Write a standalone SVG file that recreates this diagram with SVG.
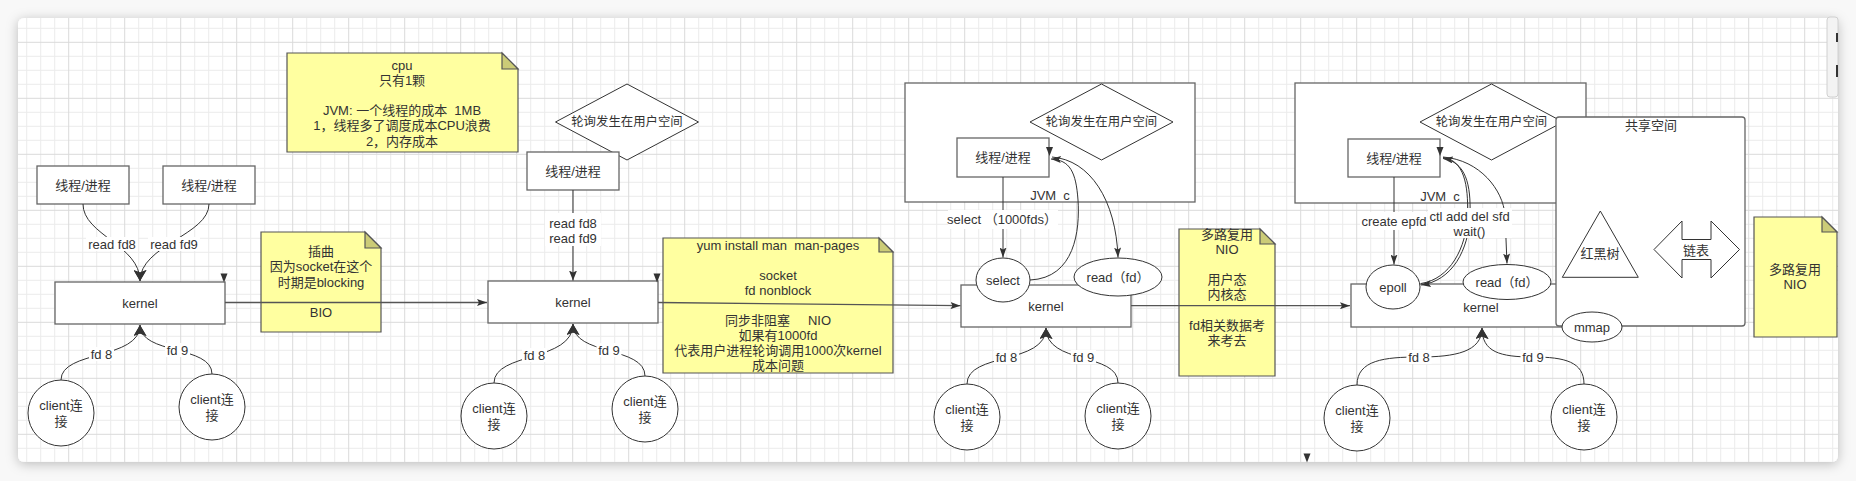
<svg xmlns="http://www.w3.org/2000/svg" width="1856" height="481" viewBox="0 0 1856 481">
<defs>
<style>
.t{font-family:"Liberation Sans","Noto Sans CJK SC",sans-serif;font-size:13px;fill:#333;text-anchor:middle;dominant-baseline:central}
.dt{font-size:12.4px}
.box{fill:#fff;stroke:#666;stroke-width:1.3}
.sh{fill:#fff;stroke:#333;stroke-width:1}
.note{fill:#ffffa0;stroke:#555;stroke-width:1.2}
.fold{fill:#cccc77;stroke:#555;stroke-width:1.2}
.c{fill:none;stroke:#333;stroke-width:1}
.h{fill:none;stroke:#555;stroke-width:1.3}
.lb{fill:#fff}
.ah{fill:#333}
</style>
<pattern id="g" width="56" height="56" patternUnits="userSpaceOnUse" x="12.2" y="41.8">
<path d="M14.5 0V56M28.5 0V56M42.5 0V56M0 14.5H56M0 28.5H56M0 42.5H56" stroke="#ebebeb" stroke-width="1" fill="none"/>
<path d="M0.5 0V56M0 0.5H56" stroke="#dadada" stroke-width="1" fill="none"/>
</pattern>
<filter id="s" x="-5%" y="-10%" width="110%" height="120%"><feDropShadow dx="0" dy="2" stdDeviation="6" flood-color="#000" flood-opacity="0.25"/></filter>
<marker id="ab" viewBox="0 0 11 13" markerWidth="11" markerHeight="13" refX="11" refY="6.5" orient="auto" markerUnits="userSpaceOnUse"><path d="M0,0 L11,6.5 L0,13 L2.5,6.5 Z" class="ah"/></marker>
<marker id="am" viewBox="0 0 10 8" markerWidth="10" markerHeight="8" refX="10" refY="4" orient="auto" markerUnits="userSpaceOnUse"><path d="M0,0 L10,4 L0,8 L2,4 Z" class="ah"/></marker>
<marker id="as" viewBox="0 0 10 7" markerWidth="10" markerHeight="7" refX="10" refY="3.5" orient="auto-start-reverse" markerUnits="userSpaceOnUse"><path d="M0,0 L10,3.5 L0,7 L2,3.5 Z" class="ah"/></marker>
</defs>
<rect width="1856" height="481" fill="#f8f8f8"/>
<g id="panel">
<rect x="18" y="18" width="1820" height="444" rx="6" fill="#fff" filter="url(#s)"/>
<rect x="18" y="18" width="1820" height="444" rx="6" fill="url(#g)"/>
<rect x="1827" y="17" width="11" height="80" rx="3" fill="#f3f3f3" stroke="#d0d0d0"/>
<rect x="1836" y="33" width="2" height="9" fill="#333"/>
<rect x="1836" y="65" width="2" height="12" fill="#333"/>
</g>

<!-- Section 1 BIO -->
<g id="thread1a"><rect class="box" x="37" y="166" width="92" height="38"/><text class="t" x="83" y="185">线程/进程</text></g>
<g id="thread1b"><rect class="box" x="163" y="166" width="92" height="38"/><text class="t" x="209" y="185">线程/进程</text></g>
<g id="kernel1"><rect class="box" x="55" y="282" width="170" height="42"/><text class="t" x="140" y="303">kernel</text></g>
<g id="client1a"><circle class="sh" cx="61" cy="413" r="33"/><text class="t" x="61" y="405.5">client连</text><text class="t" x="61" y="421">接</text></g>
<g id="client1b"><circle class="sh" cx="212" cy="407" r="33"/><text class="t" x="212" y="399.5">client连</text><text class="t" x="212" y="415">接</text></g>
<g id="note-cpu"><path class="note" d="M287,53 H502 L518,69 V152 H287 Z"/><path class="fold" d="M502,53 V69 H518 Z"/>
<text class="t" x="402" y="65">cpu</text><text class="t" x="402" y="80.5">只有1颗</text><text class="t" x="402" y="110" xml:space="preserve">JVM: 一个线程的成本  1MB</text><text class="t" x="402" y="125.5">1，线程多了调度成本CPU浪费</text><text class="t" x="402" y="141">2，内存成本</text></g>
<g id="note-bio"><path class="note" d="M261,232 H365 L381,248 V332 H261 Z"/><path class="fold" d="M365,232 V248 H381 Z"/>
<text class="t" x="321" y="251">插曲</text><text class="t" x="321" y="266.5">因为socket在这个</text><text class="t" x="321" y="282">时期是blocking</text><text class="t" x="321" y="312">BIO</text></g>

<!-- Section 2 NIO -->
<g id="diamond2"><polygon class="sh" points="555.5,122 627,84 698.5,122 627,160"/><text class="t dt" x="627" y="122">轮询发生在用户空间</text></g>
<g id="thread2"><rect class="box" x="527" y="152" width="92" height="38"/><text class="t" x="573" y="171">线程/进程</text></g>
<g id="kernel2"><rect class="box" x="488" y="281" width="170" height="42"/><text class="t" x="573" y="302">kernel</text></g>
<g id="client2a"><circle class="sh" cx="494" cy="416" r="33"/><text class="t" x="494" y="408.5">client连</text><text class="t" x="494" y="424">接</text></g>
<g id="client2b"><circle class="sh" cx="645" cy="409" r="33"/><text class="t" x="645" y="401.5">client连</text><text class="t" x="645" y="417">接</text></g>
<g id="note-nio"><path class="note" d="M663,238 H879 L893,252 V373 H663 Z"/><path class="fold" d="M879,238 V252 H893 Z"/>
<text class="t" x="778" y="245.5" xml:space="preserve">yum install man  man-pages</text><text class="t" x="778" y="275.5">socket</text><text class="t" x="778" y="290.5">fd nonblock</text><text class="t" x="778" y="320.5" xml:space="preserve">同步非阻塞     NIO</text><text class="t" x="778" y="335.5">如果有1000fd</text><text class="t" x="778" y="350.5">代表用户进程轮询调用1000次kernel</text><text class="t" x="778" y="365.5">成本问题</text></g>

<!-- Section 3 select -->
<g id="jvm3"><rect class="box" x="905" y="83" width="290" height="119"/><text class="t" x="1050" y="195" xml:space="preserve">JVM  c</text></g>
<g id="diamond3"><polygon class="sh" points="1030,122 1101.5,84 1173,122 1101.5,160"/><text class="t dt" x="1101.5" y="122">轮询发生在用户空间</text></g>
<g id="thread3"><rect class="box" x="957" y="138" width="92" height="39"/><text class="t" x="1003" y="157.5">线程/进程</text></g>
<g id="kernel3"><rect class="box" x="961" y="285" width="170" height="42"/><text class="t" x="1046" y="306.5">kernel</text></g>
<g id="select3"><ellipse class="sh" cx="1003" cy="280" rx="27" ry="22"/><text class="t" x="1003" y="280">select</text></g>
<g id="read3"><ellipse class="sh" cx="1118" cy="277" rx="44" ry="19"/><text class="t" x="1118" y="277">read（fd）</text></g>
<g id="client3a"><circle class="sh" cx="967" cy="417" r="33"/><text class="t" x="967" y="409.5">client连</text><text class="t" x="967" y="425">接</text></g>
<g id="client3b"><circle class="sh" cx="1118" cy="416" r="33"/><text class="t" x="1118" y="408.5">client连</text><text class="t" x="1118" y="424">接</text></g>
<g id="note-mux"><path class="note" d="M1179,229 H1260 L1275,244 V376 H1179 Z"/><path class="fold" d="M1260,229 V244 H1275 Z"/>
<text class="t" x="1227" y="234.5">多路复用</text><text class="t" x="1227" y="249.6">NIO</text><text class="t" x="1227" y="279.8">用户态</text><text class="t" x="1227" y="294.9">内核态</text><text class="t" x="1227" y="325.1">fd相关数据考</text><text class="t" x="1227" y="340.2">来考去</text></g>

<!-- Section 4 epoll -->
<g id="jvm4"><rect class="box" x="1295" y="83" width="291" height="120"/><text class="t" x="1440" y="196" xml:space="preserve">JVM  c</text></g>
<g id="diamond4"><polygon class="sh" points="1420,122 1491.5,84 1563,122 1491.5,160"/><text class="t dt" x="1491.5" y="122">轮询发生在用户空间</text></g>
<g id="thread4"><rect class="box" x="1348" y="139" width="92" height="38"/><text class="t" x="1394" y="158">线程/进程</text></g>
<g id="kernel4"><rect class="box" x="1351" y="284" width="258" height="43"/><text class="t" x="1481" y="307">kernel</text></g>
<g id="epoll4"><ellipse class="sh" cx="1393" cy="287" rx="27" ry="22"/><text class="t" x="1393" y="287">epoll</text></g>
<g id="read4"><ellipse class="sh" cx="1507" cy="282" rx="44" ry="17.5"/><text class="t" x="1507" y="282">read（fd）</text></g>
<g id="shared"><rect class="box" x="1556" y="117" width="189" height="209" rx="3"/><text class="t" x="1651" y="125">共享空间</text>
<polygon class="sh" points="1600.3,211 1638.3,277.3 1562.3,277.3"/><text class="t" x="1600" y="253">红黑树</text>
<polygon class="sh" points="1654,249.5 1682,221 1682,239.5 1711,239.5 1711,221 1739.5,249.5 1711,278 1711,259.5 1682,259.5 1682,278"/><text class="t" x="1696" y="250">链表</text></g>
<g id="mmap"><ellipse class="sh" cx="1592" cy="327" rx="30" ry="15"/><text class="t" x="1592" y="327">mmap</text></g>
<g id="client4a"><circle class="sh" cx="1357" cy="418" r="33"/><text class="t" x="1357" y="410.5">client连</text><text class="t" x="1357" y="426">接</text></g>
<g id="client4b"><circle class="sh" cx="1584" cy="417" r="33"/><text class="t" x="1584" y="409.5">client连</text><text class="t" x="1584" y="425">接</text></g>
<g id="note-mux2"><path class="note" d="M1754,217 H1822 L1837,232 V337 H1754 Z"/><path class="fold" d="M1822,217 V232 H1837 Z"/>
<text class="t" x="1795" y="269">多路复用</text><text class="t" x="1795" y="284">NIO</text></g>

<g id="connectors">
<!-- section 1 -->
<path class="c" d="M83,204 C83,235 140,245 140,281" marker-end="url(#ab)"/>
<path class="c" d="M209,204 C209,235 140,245 140,281" marker-end="url(#ab)"/>
<path class="c" d="M61,380 C61,350 140,360 140,325" marker-end="url(#ab)"/>
<path class="c" d="M212,374 C212,345 140,355 140,325" marker-end="url(#ab)"/>
<path class="ah" d="M220.5,273.5 H227.5 L224,282.5 Z"/>
<path class="h" d="M225,302.5 H487" marker-end="url(#as)"/>
<!-- section 2 -->
<path class="c" d="M573,190 V280.5" marker-end="url(#am)"/>
<path class="c" d="M494,383 C494,352 573,362 573,324" marker-end="url(#ab)"/>
<path class="c" d="M645,376 C645,346 573,356 573,324" marker-end="url(#ab)"/>
<path class="ah" d="M653.5,273.5 H660.5 L657,282.5 Z"/>
<path class="h" d="M658,302.5 L960.5,305.7" marker-end="url(#as)"/>
<!-- section 3 -->
<path class="c" d="M1003,177 V257.5" marker-end="url(#as)"/>
<path class="c" d="M1030,280 C1075,278 1080,230 1078,200 C1076,172 1070,160 1051,159" marker-end="url(#as)"/>
<path class="c" d="M1052,157 C1090,160 1116,200 1118,257.5" marker-end="url(#as)"/>
<path class="ah" d="M1046,147 H1053 L1049.5,156 Z"/>
<path class="c" d="M967,384 C967,352 1046,365 1046,328" marker-end="url(#ab)"/>
<path class="c" d="M1118,383 C1118,352 1046,365 1046,328" marker-end="url(#ab)"/>
<path class="h" d="M1131,305.7 H1350" marker-end="url(#as)"/>
<!-- section 4 -->
<path class="c" d="M1394,177 V264.5" marker-end="url(#as)"/>
<path class="c" d="M1443,158.5 C1466,162 1471,185 1470,215 C1469,250 1452,281 1421,285" marker-start="url(#as)" marker-end="url(#as)"/>
<path class="c" d="M1443,157.5 C1464,160 1468.5,185 1467.5,215 C1466.5,248 1450,279 1421,283.5"/>
<path class="c" d="M1443,157 C1480,160 1503,190 1505,215 L1507,263.5" marker-end="url(#as)"/>
<path class="ah" d="M1436.5,147 H1443.5 L1440,156 Z"/>
<path class="c" d="M1357,385 C1357,360 1385,357 1419,357 C1455,357 1482,352 1482,328" marker-end="url(#ab)"/>
<path class="c" d="M1584,384 C1584,362 1565,357 1533,357 C1500,357 1482,352 1482,328" marker-end="url(#ab)"/>
<path class="ah" d="M1303.5,453.5 H1310.5 L1307,462.5 Z"/>

<!-- labels -->
<rect class="lb" x="86" y="237" width="52" height="14"/><text class="t" x="112" y="244">read fd8</text>
<rect class="lb" x="148" y="237" width="52" height="14"/><text class="t" x="174" y="244">read fd9</text>
<rect class="lb" x="89" y="347" width="25" height="14"/><text class="t" x="101.5" y="354">fd 8</text>
<rect class="lb" x="165" y="343" width="25" height="14"/><text class="t" x="177.5" y="350">fd 9</text>
<rect class="lb" x="545" y="213" width="56" height="33"/><text class="t" x="573" y="223">read fd8</text><text class="t" x="573" y="238">read fd9</text>
<rect class="lb" x="522" y="348" width="25" height="14"/><text class="t" x="534.5" y="355">fd 8</text>
<rect class="lb" x="596.5" y="343" width="25" height="14"/><text class="t" x="609" y="350">fd 9</text>
<rect class="lb" x="948" y="210" width="110" height="19"/><text class="t" x="1002" y="219">select （1000fds）</text>
<rect class="lb" x="994" y="350" width="25" height="14"/><text class="t" x="1006.5" y="357">fd 8</text>
<rect class="lb" x="1071" y="350" width="25" height="14"/><text class="t" x="1083.5" y="357">fd 9</text>
<rect class="lb" x="1360" y="212" width="67" height="18"/><text class="t" x="1394" y="221">create epfd</text>
<rect class="lb" x="1428" y="208" width="84" height="30"/><text class="t" x="1469.5" y="216">ctl add del sfd</text><text class="t" x="1469.5" y="231">wait()</text>
<rect class="lb" x="1406.5" y="350" width="25" height="14"/><text class="t" x="1419" y="357">fd 8</text>
<rect class="lb" x="1520.5" y="350" width="25" height="14"/><text class="t" x="1533" y="357">fd 9</text>
</g>
</svg>
